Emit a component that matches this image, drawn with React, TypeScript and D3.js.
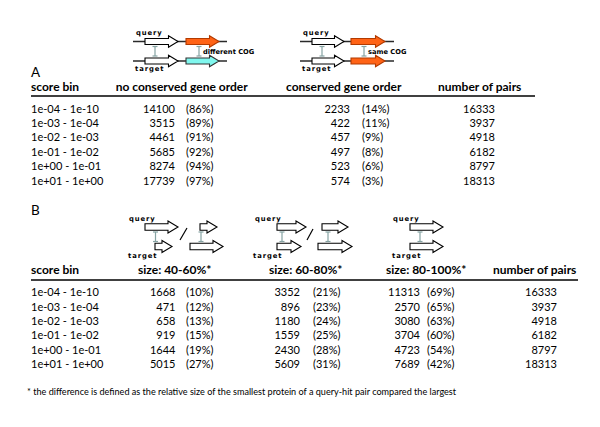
import React from "react";
import * as d3 from "d3";

const scoreBins = ["1e-04 - 1e-10", "1e-03 - 1e-04", "1e-02 - 1e-03", "1e-01 - 1e-02", "1e+00 - 1e-01", "1e+01 - 1e+00"];
const noConserved = [14100, 3515, 4461, 5685, 8274, 17739];
const noConservedPct = [86, 89, 91, 92, 94, 97];
const conserved = [2233, 422, 457, 497, 523, 574];
const conservedPct = [14, 11, 9, 8, 6, 3];
const pairs = [16333, 3937, 4918, 6182, 8797, 18313];
const size4060 = [1668, 471, 658, 919, 1644, 5015];
const size4060Pct = [10, 12, 13, 15, 19, 27];
const size6080 = [3352, 896, 1180, 1559, 2430, 5609];
const size6080Pct = [21, 23, 24, 25, 28, 31];
const size80100 = [11313, 2570, 3080, 3704, 4723, 7689];
const size80100Pct = [69, 65, 63, 60, 54, 42];
const headersA = ["score bin", "no conserved gene order", "conserved gene order", "number of pairs"];
const headersB = ["score bin", "size: 40-60%*", "size: 60-80%*", "size: 80-100%*", "number of pairs"];
const footnote = "* the difference is defined as the relative size of the smallest protein of a query-hit pair compared the largest";

const FONT = "Lato, 'Open Sans', sans-serif";
const LABEL_FONT = "'DejaVu Sans', sans-serif";
const ORANGE = "#ff6316";
const ORANGE_STROKE = "#b23a00";
const CYAN = "#80f7ee";
const LINK = "#86a3a3";

function arrowPath(x0: number, x1: number, cy: number, bh = 3, hh = 5.8, hl = 9.5) {
  const xb = x1 - hl;
  return `M${x0},${cy - bh}L${xb},${cy - bh}L${xb},${cy - hh}L${x1},${cy}L${xb},${cy + hh}L${xb},${cy + bh}L${x0},${cy + bh}Z`;
}

function Arrow({ x0, x1, cy, fill = "#fff", stroke = "#000", bh = 3, hh = 5.8, hl = 9.5 }: any) {
  return <path d={arrowPath(x0, x1, cy, bh, hh, hl)} fill={fill} stroke={stroke} strokeWidth={1.1} strokeLinejoin="miter" />;
}

function Link({ x, y1, y2 }: any) {
  return (
    <g stroke={LINK} strokeWidth={1.2}>
      <line x1={x} x2={x} y1={y1} y2={y2} />
      <line x1={x - 2.5} x2={x + 2.5} y1={y1} y2={y1} />
      <line x1={x - 2.5} x2={x + 2.5} y1={y2} y2={y2} />
    </g>
  );
}

function SmallLabel({ x, y, text }: any) {
  return (
    <text x={x} y={y} fontFamily={LABEL_FONT} fontWeight="bold" fontSize={6.8} letterSpacing={0.9} fill="#000">
      {text}
    </text>
  );
}

function DiagramA({ lx0, lx1, a0, a1, b0, b1, right, tag }: any) {
  const qy = 41.5, ty = 61;
  return (
    <g>
      <line x1={lx0} x2={lx1} y1={qy} y2={qy} stroke="#2a2a2a" strokeWidth={1.7} />
      <line x1={lx0} x2={lx1} y1={ty} y2={ty} stroke="#2a2a2a" strokeWidth={1.7} />
      <Arrow x0={a0} x1={a1} cy={qy} />
      <Arrow x0={a0} x1={a1} cy={ty} />
      <Arrow x0={b0} x1={b1} cy={qy} fill={ORANGE} stroke={ORANGE_STROKE} />
      <Arrow x0={b0} x1={b1} cy={ty} fill={right} stroke={right === CYAN ? "#333" : ORANGE_STROKE} />
      <Link x={a0 + 10} y1={46.5} y2={56} />
      <Link x={b0 + 13} y1={46.5} y2={56} />
      <SmallLabel x={lx0 + 3} y={35} text="query" />
      <SmallLabel x={lx0 + 2} y={70.5} text="target" />
      <text x={b0 + 17} y={53.5} fontFamily={LABEL_FONT} fontWeight="bold" fontSize={6.7} fill="#000">
        {tag}
      </text>
    </g>
  );
}

const qyB = 227, tyB = 246.5;
const bh = 3.3, hh = 6, hl = 10;

export default function App() {
  const rowsA = d3.scalePoint<string>().domain(scoreBins).range([108.5, 180.5]);
  const rowsB = d3.scalePoint<string>().domain(scoreBins).range([292.3, 364]);
  const fmt = d3.format("d");
  const pct = (v: number) => `(${v}%)`;

  const colsA = [
    { hx: 115.7, numX: 175, pctX: 186, vals: noConserved, pcts: noConservedPct },
    { hx: 286, numX: 350, pctX: 362, vals: conserved, pcts: conservedPct },
    { hx: 438, numX: 495, pctX: 0, vals: pairs, pcts: null as number[] | null },
  ];
  const colsB = [
    { hx: 138, numX: 175.5, pctX: 186, vals: size4060, pcts: size4060Pct },
    { hx: 269, numX: 300, pctX: 313, vals: size6080, pcts: size6080Pct },
    { hx: 386, numX: 420, pctX: 427, vals: size80100, pcts: size80100Pct },
    { hx: 493, numX: 557, pctX: 0, vals: pairs, pcts: null as number[] | null },
  ];

  const textBase = { fontFamily: FONT, fontSize: 11, fill: "#000" };

  const renderTable = (cols: any[], headers: string[], rows: any, headerY: number, lineY: number, lineX1: number) => (
    <g>
      <text x={31} y={headerY} {...textBase} fontWeight="bold" fontSize={12}>{headers[0]}</text>
      {cols.map((c, i) => (
        <text key={"h" + i} x={c.hx} y={headerY} {...textBase} fontWeight="bold" fontSize={12}>{headers[i + 1]}</text>
      ))}
      <line x1={31} x2={lineX1} y1={lineY} y2={lineY} stroke="#000" strokeWidth={1.3} />
      {scoreBins.map((b, r) => (
        <g key={b}>
          <text x={31} y={(rows(b) as number) + 4} {...textBase}>{b}</text>
          {cols.map((c, i) => (
            <g key={i}>
              <text x={c.numX} y={(rows(b) as number) + 4} textAnchor="end" {...textBase}>{fmt(c.vals[r])}</text>
              {c.pcts && <text x={c.pctX} y={(rows(b) as number) + 4} {...textBase}>{pct(c.pcts[r])}</text>}
            </g>
          ))}
        </g>
      ))}
    </g>
  );

  return (
    <svg width={600} height={427} style={{ position: "absolute", left: 0, top: 0, background: "#fff" }}>
      <rect width={600} height={427} fill="#fff" />
      <text x={31} y={77} fontFamily={FONT} fontSize={13.5} fill="#000">A</text>
      <DiagramA lx0={133} lx1={227} a0={145} a1={178} b0={186} b1={219} right={CYAN} tag="different COG" />
      <DiagramA lx0={300} lx1={394} a0={312} a1={344} b0={351} b1={385} right={ORANGE} tag="same COG" />
      {renderTable(colsA, headersA, rowsA, 90.7, 96, 535)}

      <text x={31} y={215} fontFamily={FONT} fontSize={13.5} fill="#000">B</text>
      {/* B diagram 1: 40-60% */}
      <SmallLabel x={129} y={221} text="query" />
      <SmallLabel x={128} y={257.5} text="target" />
      <Arrow x0={145} x1={178} cy={qyB} bh={bh} hh={hh} hl={hl} />
      <Arrow x0={155} x1={172} cy={tyB} bh={bh} hh={hh} hl={hl} />
      <Link x={155.5} y1={232} y2={241.5} />
      <line x1={180} y1={240} x2={187} y2={228} stroke="#000" strokeWidth={1.2} />
      <Arrow x0={200} x1={217} cy={qyB} bh={bh} hh={hh} hl={hl} />
      <Arrow x0={190} x1={223} cy={tyB} bh={bh} hh={hh} hl={hl} />
      <Link x={201} y1={232} y2={241.5} />
      {/* B diagram 2: 60-80% */}
      <SmallLabel x={255} y={221} text="query" />
      <SmallLabel x={253} y={257.5} text="target" />
      <Arrow x0={277} x1={306} cy={qyB} bh={bh} hh={hh} hl={hl} />
      <Arrow x0={277} x1={301} cy={tyB} bh={bh} hh={hh} hl={hl} />
      <Link x={282} y1={232} y2={241.5} />
      <line x1={307} y1={240} x2={313} y2={229} stroke="#000" strokeWidth={1.2} />
      <Arrow x0={322} x1={348} cy={qyB} bh={bh} hh={hh} hl={hl} />
      <Arrow x0={318} x1={352} cy={tyB} bh={bh} hh={hh} hl={hl} />
      <Link x={328} y1={232} y2={241.5} />
      {/* B diagram 3: 80-100% */}
      <SmallLabel x={393} y={221} text="query" />
      <SmallLabel x={392} y={257.5} text="target" />
      <Arrow x0={410} x1={443} cy={qyB} bh={bh} hh={hh} hl={hl} />
      <Arrow x0={410} x1={443} cy={tyB} bh={bh} hh={hh} hl={hl} />
      <Link x={420} y1={232} y2={241.5} />
      {renderTable(colsB, headersB, rowsB, 274, 280, 578)}

      <text x={27} y={395} fontFamily={FONT} fontSize={9.1} fill="#000">{footnote}</text>
    </svg>
  );
}
